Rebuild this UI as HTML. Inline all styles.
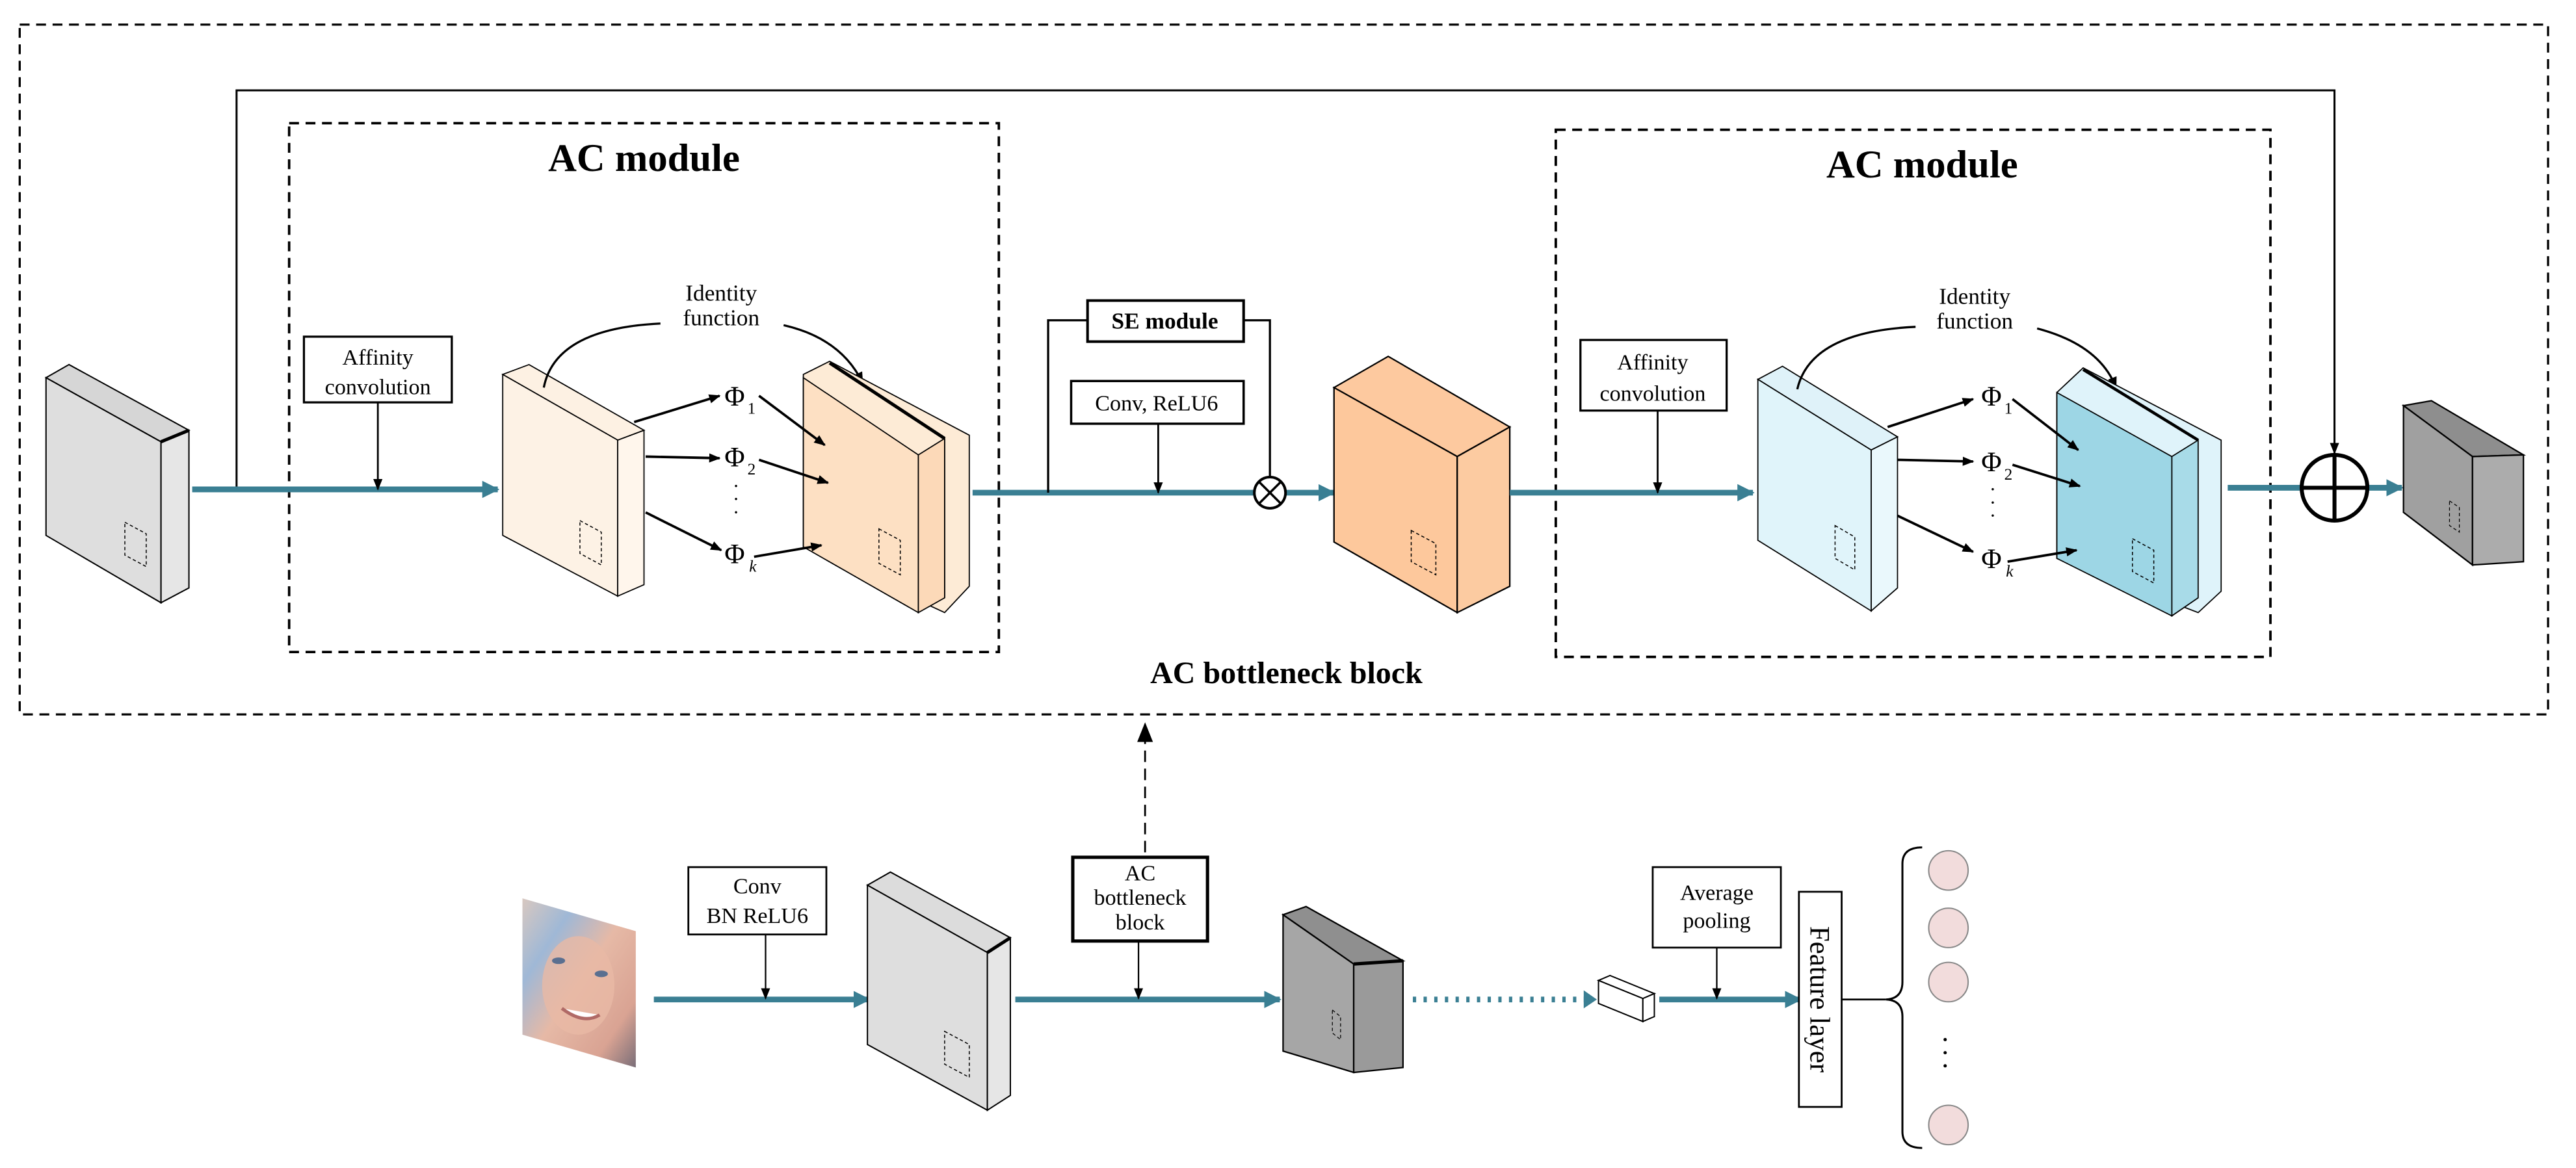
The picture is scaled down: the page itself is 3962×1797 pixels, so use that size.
<!DOCTYPE html>
<html><head><meta charset="utf-8"><style>
html,body{margin:0;padding:0;background:#fff}
svg{display:block}
text{font-family:"Liberation Serif","DejaVu Serif",serif;fill:#000}
</style></head><body>
<svg width="3962" height="1797" viewBox="0 0 1568 711.2" preserveAspectRatio="none" xmlns="http://www.w3.org/2000/svg">
<defs>
<marker id="ab" viewBox="0 0 10 10" refX="9" refY="5" markerWidth="7" markerHeight="7" orient="auto" markerUnits="userSpaceOnUse"><path d="M0,1 L10,5 L0,9 z" fill="#000"/></marker>
<marker id="at" viewBox="0 0 10 10" refX="9" refY="5" markerWidth="3" markerHeight="3" orient="auto"><path d="M0,0 L10,5 L0,10 z" fill="#3a7f93"/></marker>
<marker id="ad" viewBox="0 0 10 10" refX="9" refY="5" markerWidth="12" markerHeight="12" orient="auto" markerUnits="userSpaceOnUse"><path d="M0,1 L10,5 L0,9 z" fill="#000"/></marker>
<linearGradient id="face" x1="0" y1="0" x2="1" y2="1">
<stop offset="0" stop-color="#d8c8c0"/><stop offset="0.25" stop-color="#9fb8d6"/><stop offset="0.5" stop-color="#e6b9a6"/><stop offset="0.8" stop-color="#d9a393"/><stop offset="1" stop-color="#7a6e78"/></linearGradient>
</defs>

<!-- outer dashed box -->
<rect x="12" y="15" width="1539" height="420" fill="none" stroke="#000" stroke-width="1.3" stroke-dasharray="6,4"/>
<rect x="176" y="75" width="432" height="322" fill="none" stroke="#000" stroke-width="1.5" stroke-dasharray="6,4"/>
<rect x="947" y="79" width="435" height="321" fill="none" stroke="#000" stroke-width="1.5" stroke-dasharray="6,4"/>
<text x="392" y="104" font-size="24" font-weight="bold" text-anchor="middle">AC module</text>
<text x="1170" y="108" font-size="24" font-weight="bold" text-anchor="middle">AC module</text>
<text x="783" y="416" font-size="19" font-weight="bold" text-anchor="middle">AC bottleneck block</text>

<!-- skip line -->
<polyline points="144,298 144,55 1421,55 1421,276" fill="none" stroke="#000" stroke-width="1.2" marker-end="url(#ab)"/>

<!-- input gray block -->
<polygon points="28,230 42,222 115,262 98,269" fill="#d6d6d6" stroke="#000" stroke-width="0.8"/>
<polygon points="28,230 98,269 98,367 28,326" fill="#dedede" stroke="#000" stroke-width="0.8"/>
<polygon points="98,269 115,262 115,358 98,367" fill="#e6e6e6" stroke="#000" stroke-width="0.8"/>
<line x1="98" y1="269" x2="115" y2="262" stroke="#000" stroke-width="2"/>
<polygon points="76,318 89,325 89,345 76,338" fill="none" stroke="#000" stroke-width="0.6" stroke-dasharray="2,1.5"/>

<!-- teal main line 1 -->
<line x1="117" y1="298" x2="303" y2="298" stroke="#3a7f93" stroke-width="3.5" marker-end="url(#at)"/>
<rect x="185" y="205" width="90" height="40" fill="#fff" stroke="#000" stroke-width="1.3"/>
<text x="230" y="222" font-size="13.5" text-anchor="middle">Affinity</text>
<text x="230" y="240" font-size="13.5" text-anchor="middle">convolution</text>
<line x1="230" y1="245" x2="230" y2="298" stroke="#000" stroke-width="1.1" marker-end="url(#ab)"/>

<!-- cream slab -->
<polygon points="306,228 322,222 392,262 376,268" fill="#fdf1e3" stroke="#000" stroke-width="0.7"/>
<polygon points="306,228 376,268 376,363 306,326" fill="#fdf2e5" stroke="#000" stroke-width="0.7"/>
<polygon points="376,268 392,262 392,356 376,363" fill="#fff6ec" stroke="#000" stroke-width="0.7"/>
<polygon points="353,317 366,324 366,344 353,337" fill="none" stroke="#000" stroke-width="0.6" stroke-dasharray="2,1.5"/>

<!-- identity function 1 -->
<text x="439" y="183" font-size="14" text-anchor="middle">Identity</text>
<text x="439" y="198" font-size="14" text-anchor="middle">function</text>
<path d="M331,236 Q338,200 402,197" fill="none" stroke="#000" stroke-width="1.3"/>
<path d="M477,198 Q512,206 525,233" fill="none" stroke="#000" stroke-width="1.3" marker-end="url(#ab)"/>

<!-- orange stacked block -->
<polygon points="489,228 505,220 590,265 590,357 575,373 489,333" fill="#fdebd6" stroke="#000" stroke-width="0.7"/>
<polygon points="489,230 559,277 559,373 489,333" fill="#fde0c3" stroke="#000" stroke-width="0.7"/>
<polygon points="559,277 575,267 575,364 559,373" fill="#fcd9b8" stroke="#000" stroke-width="0.7"/>
<line x1="505" y1="221" x2="575" y2="267" stroke="#000" stroke-width="2"/>
<line x1="575" y1="267" x2="575" y2="364" stroke="#000" stroke-width="0.7"/>
<polygon points="535,322 548,329 548,350 535,343" fill="none" stroke="#000" stroke-width="0.6" stroke-dasharray="2,1.5"/>

<!-- phi 1 -->
<text x="441" y="247" font-size="17">Φ</text><text x="455" y="252" font-size="10">1</text>
<text x="441" y="284" font-size="17">Φ</text><text x="455" y="289" font-size="10">2</text>
<text x="446" y="300" font-size="12">·</text><text x="446" y="308" font-size="12">·</text><text x="446" y="316" font-size="12">·</text>
<text x="441" y="343" font-size="17">Φ</text><text x="456" y="348" font-size="10" font-style="italic">k</text>
<line x1="386" y1="257" x2="438" y2="241" stroke="#000" stroke-width="1.5" marker-end="url(#ab)"/>
<line x1="393" y1="278" x2="438" y2="279" stroke="#000" stroke-width="1.5" marker-end="url(#ab)"/>
<line x1="393" y1="312" x2="439" y2="335" stroke="#000" stroke-width="1.5" marker-end="url(#ab)"/>
<line x1="462" y1="241" x2="502" y2="271" stroke="#000" stroke-width="1.5" marker-end="url(#ab)"/>
<line x1="462" y1="280" x2="504" y2="294" stroke="#000" stroke-width="1.5" marker-end="url(#ab)"/>
<line x1="459" y1="339" x2="500" y2="332" stroke="#000" stroke-width="1.5" marker-end="url(#ab)"/>

<!-- SE part -->
<line x1="592" y1="300" x2="764" y2="300" stroke="#3a7f93" stroke-width="3.5"/>
<line x1="783" y1="300" x2="812" y2="300" stroke="#3a7f93" stroke-width="3.5" marker-end="url(#at)"/>
<polyline points="638,300 638,195 662,195" fill="none" stroke="#000" stroke-width="1.3"/>
<polyline points="757,195 773,195 773,290" fill="none" stroke="#000" stroke-width="1.3"/>
<rect x="662" y="183" width="95" height="25" fill="#fff" stroke="#000" stroke-width="1.6"/>
<text x="709" y="200" font-size="14" font-weight="bold" text-anchor="middle">SE module</text>
<rect x="652" y="232" width="105" height="26" fill="#fff" stroke="#000" stroke-width="1.4"/>
<text x="704" y="250" font-size="13.5" text-anchor="middle">Conv, ReLU6</text>
<line x1="705" y1="258" x2="705" y2="300" stroke="#000" stroke-width="1.1" marker-end="url(#ab)"/>
<circle cx="773" cy="300" r="9.5" fill="#fff" stroke="#000" stroke-width="1.6"/>
<line x1="766.3" y1="293.3" x2="779.7" y2="306.7" stroke="#000" stroke-width="1.4"/>
<line x1="779.7" y1="293.3" x2="766.3" y2="306.7" stroke="#000" stroke-width="1.4"/>

<!-- orange big block -->
<polygon points="812,236 845,217 919,260 887,278" fill="#fdc99f" stroke="#000" stroke-width="0.9"/>
<polygon points="812,236 887,278 887,373 812,330" fill="#fdc89c" stroke="#000" stroke-width="0.9"/>
<polygon points="887,278 919,260 919,357 887,373" fill="#fccba1" stroke="#000" stroke-width="0.9"/>
<polygon points="859,323 874,331 874,350 859,342" fill="none" stroke="#000" stroke-width="0.6" stroke-dasharray="2,1.5"/>

<line x1="919" y1="300" x2="1067" y2="300" stroke="#3a7f93" stroke-width="3.5" marker-end="url(#at)"/>
<rect x="962" y="207" width="89" height="43" fill="#fff" stroke="#000" stroke-width="1.3"/>
<text x="1006" y="225" font-size="13.5" text-anchor="middle">Affinity</text>
<text x="1006" y="244" font-size="13.5" text-anchor="middle">convolution</text>
<line x1="1009" y1="250" x2="1009" y2="300" stroke="#000" stroke-width="1.1" marker-end="url(#ab)"/>

<!-- light blue slab -->
<polygon points="1070,231 1085,223 1155,266 1139,274" fill="#dff2f9" stroke="#000" stroke-width="0.7"/>
<polygon points="1070,231 1139,274 1139,372 1070,329" fill="#e0f4fa" stroke="#000" stroke-width="0.7"/>
<polygon points="1139,274 1155,266 1155,358 1139,372" fill="#eaf8fc" stroke="#000" stroke-width="0.7"/>
<polygon points="1117,320 1129,327 1129,347 1117,340" fill="none" stroke="#000" stroke-width="0.6" stroke-dasharray="2,1.5"/>

<text x="1202" y="185" font-size="14" text-anchor="middle">Identity</text>
<text x="1202" y="200" font-size="14" text-anchor="middle">function</text>
<path d="M1094,237 Q1102,202 1166,199" fill="none" stroke="#000" stroke-width="1.3"/>
<path d="M1240,200 Q1278,210 1288,236" fill="none" stroke="#000" stroke-width="1.3" marker-end="url(#ab)"/>

<!-- blue stacked block -->
<polygon points="1252,239 1268,224 1352,268 1352,360 1338,373 1252,340" fill="#dff3fa" stroke="#000" stroke-width="0.7"/>
<polygon points="1252,239 1322,278 1322,375 1252,340" fill="#9dd6e5" stroke="#000" stroke-width="0.7"/>
<polygon points="1322,278 1338,268 1338,364 1322,375" fill="#a8dbe8" stroke="#000" stroke-width="0.7"/>
<line x1="1268" y1="225" x2="1338" y2="268" stroke="#000" stroke-width="1.8"/>
<polygon points="1298,328 1311,335 1311,355 1298,348" fill="none" stroke="#000" stroke-width="0.6" stroke-dasharray="2,1.5"/>

<text x="1206" y="247" font-size="17">Φ</text><text x="1220" y="252" font-size="10">1</text>
<text x="1206" y="287" font-size="17">Φ</text><text x="1220" y="292" font-size="10">2</text>
<text x="1211" y="302" font-size="12">·</text><text x="1211" y="310" font-size="12">·</text><text x="1211" y="318" font-size="12">·</text>
<text x="1206" y="346" font-size="17">Φ</text><text x="1221" y="351" font-size="10" font-style="italic">k</text>
<line x1="1149" y1="260" x2="1201" y2="243" stroke="#000" stroke-width="1.5" marker-end="url(#ab)"/>
<line x1="1155" y1="280" x2="1201" y2="281" stroke="#000" stroke-width="1.5" marker-end="url(#ab)"/>
<line x1="1155" y1="314" x2="1201" y2="336" stroke="#000" stroke-width="1.5" marker-end="url(#ab)"/>
<line x1="1225" y1="243" x2="1265" y2="274" stroke="#000" stroke-width="1.5" marker-end="url(#ab)"/>
<line x1="1225" y1="283" x2="1266" y2="296" stroke="#000" stroke-width="1.5" marker-end="url(#ab)"/>
<line x1="1222" y1="342" x2="1264" y2="335" stroke="#000" stroke-width="1.5" marker-end="url(#ab)"/>

<!-- add -->
<line x1="1356" y1="297" x2="1462" y2="297" stroke="#3a7f93" stroke-width="3.5" marker-end="url(#at)"/>
<circle cx="1421" cy="297" r="20" fill="#fff" stroke="#000" stroke-width="2.4"/>
<line x1="1401" y1="297" x2="1441" y2="297" stroke="#000" stroke-width="2.4"/>
<line x1="1421" y1="277" x2="1421" y2="317" stroke="#000" stroke-width="2.4"/>

<!-- output gray block -->
<polygon points="1463,247 1480,244 1536,277 1505,278" fill="#8e8e8e" stroke="#000" stroke-width="0.9"/>
<polygon points="1463,247 1505,278 1505,344 1463,312" fill="#a0a0a0" stroke="#000" stroke-width="0.9"/>
<polygon points="1505,278 1536,277 1536,342 1505,344" fill="#acacac" stroke="#000" stroke-width="0.9"/>
<polygon points="1491,305 1497,309 1497,324 1491,320" fill="none" stroke="#000" stroke-width="0.5" stroke-dasharray="2,1.5"/>

<!-- bottom row -->
<line x1="697" y1="519" x2="697" y2="441" stroke="#000" stroke-width="1.1" stroke-dasharray="7,4" marker-end="url(#ad)"/>

<polygon points="318,547 387,567 387,650 318,630" fill="url(#face)"/>
<ellipse cx="352" cy="600" rx="22" ry="30" fill="#e8b9a5" opacity="0.8"/>
<ellipse cx="340" cy="585" rx="4" ry="2" fill="#5a6f90"/>
<ellipse cx="366" cy="593" rx="4" ry="2" fill="#5a6f90"/>
<path d="M342,614 Q355,624 365,618" fill="#fff" stroke="#b06a66" stroke-width="2"/>

<line x1="398" y1="608.6" x2="529" y2="608.6" stroke="#3a7f93" stroke-width="3.5" marker-end="url(#at)"/>
<rect x="419" y="528" width="84" height="41" fill="#fff" stroke="#000" stroke-width="1.1"/>
<text x="461" y="544" font-size="13.5" text-anchor="middle">Conv</text>
<text x="461" y="562" font-size="13.5" text-anchor="middle">BN ReLU6</text>
<line x1="466" y1="569" x2="466" y2="608" stroke="#000" stroke-width="0.9" marker-end="url(#ab)"/>

<polygon points="528,539 542,531 615,571 601,580" fill="#dcdcdc" stroke="#000" stroke-width="0.8"/>
<polygon points="528,539 601,580 601,676 528,636" fill="#dedede" stroke="#000" stroke-width="0.8"/>
<polygon points="601,580 615,571 615,667 601,676" fill="#e6e6e6" stroke="#000" stroke-width="0.8"/>
<line x1="601" y1="580" x2="615" y2="571" stroke="#000" stroke-width="2"/>
<polygon points="575,628 590,636 590,656 575,648" fill="none" stroke="#000" stroke-width="0.6" stroke-dasharray="2,1.5"/>

<line x1="618" y1="608.6" x2="779" y2="608.6" stroke="#3a7f93" stroke-width="3.5" marker-end="url(#at)"/>
<rect x="653" y="522" width="82" height="51" fill="#fff" stroke="#000" stroke-width="2"/>
<text x="694" y="536" font-size="13.5" text-anchor="middle">AC</text>
<text x="694" y="551" font-size="13.5" text-anchor="middle">bottleneck</text>
<text x="694" y="566" font-size="13.5" text-anchor="middle">block</text>
<line x1="693" y1="573" x2="693" y2="608" stroke="#000" stroke-width="0.9" marker-end="url(#ab)"/>

<polygon points="781,557 795,552 854,585 824,587" fill="#8f8f8f" stroke="#000" stroke-width="0.9"/>
<polygon points="781,557 824,587 824,653 781,640" fill="#a6a6a6" stroke="#000" stroke-width="0.9"/>
<polygon points="824,587 854,585 854,650 824,653" fill="#9a9a9a" stroke="#000" stroke-width="0.9"/>
<line x1="824" y1="587" x2="854" y2="585" stroke="#000" stroke-width="2"/>
<polygon points="811,615 816,619 816,633 811,629" fill="none" stroke="#000" stroke-width="0.5" stroke-dasharray="2,1.5"/>

<line x1="860" y1="608.6" x2="966" y2="608.6" stroke="#3a7f93" stroke-width="3.5" stroke-dasharray="2,4.5"/>
<path d="M964,603 L972,608.6 L964,614 z" fill="#3a7f93"/>
<polygon points="973,597 980,594 1007,605 1000,608" fill="#fff" stroke="#000" stroke-width="0.8"/>
<polygon points="973,597 1000,608 1000,622 973,611" fill="#fff" stroke="#000" stroke-width="0.8"/>
<polygon points="1000,608 1007,605 1007,619 1000,622" fill="#fff" stroke="#000" stroke-width="0.8"/>

<line x1="1010" y1="608.6" x2="1096" y2="608.6" stroke="#3a7f93" stroke-width="3.5" marker-end="url(#at)"/>
<rect x="1006" y="528" width="78" height="49" fill="#fff" stroke="#000" stroke-width="1.1"/>
<text x="1045" y="548" font-size="13.5" text-anchor="middle">Average</text>
<text x="1045" y="565" font-size="13.5" text-anchor="middle">pooling</text>
<line x1="1045" y1="577" x2="1045" y2="608" stroke="#000" stroke-width="0.9" marker-end="url(#ab)"/>

<rect x="1095" y="543" width="26" height="131" fill="#fff" stroke="#000" stroke-width="1.1"/>
<text transform="translate(1102,608.5) rotate(90)" font-size="17" text-anchor="middle">Feature layer</text>
<line x1="1121" y1="608.6" x2="1148" y2="608.6" stroke="#000" stroke-width="1.1"/>
<path d="M1170,516 Q1158,516 1158,526 L1158,598 Q1158,608 1148,608.6 Q1158,609 1158,619 L1158,689 Q1158,699 1170,699" fill="none" stroke="#000" stroke-width="1.2"/>

<g fill="#f2dcdc" stroke="#888" stroke-width="0.8">
<ellipse cx="1186" cy="530" rx="12" ry="12"/>
<ellipse cx="1186" cy="565" rx="12" ry="12"/>
<ellipse cx="1186" cy="598" rx="12" ry="12"/>
<ellipse cx="1186" cy="685" rx="12" ry="12"/>
</g>
<circle cx="1184" cy="633" r="1" fill="#000"/>
<circle cx="1184" cy="641" r="1" fill="#000"/>
<circle cx="1184" cy="649" r="1" fill="#000"/>
</svg>
</body></html>
